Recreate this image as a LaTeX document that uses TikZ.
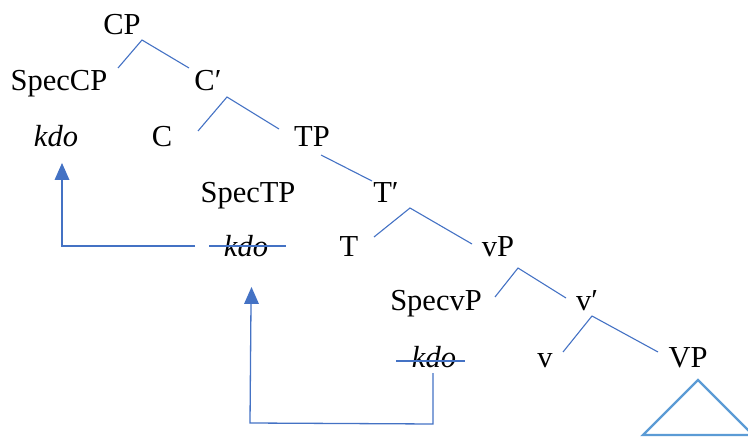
\documentclass[tikz,border=0pt]{standalone}
\usepackage{fontspec}
\setmainfont{Liberation Serif}
\definecolor{lnblue}{HTML}{4472C4}
\definecolor{triblue}{HTML}{5B9BD5}
\begin{document}
\begin{tikzpicture}[x=1bp,y=-1bp,
  lab/.style={anchor=base,inner sep=0pt,font=\fontsize{30.5bp}{36bp}\selectfont},
  edge/.style={draw=lnblue,line width=1.1bp},
  mv/.style={draw=lnblue,line width=1.3bp},
  tip/.style={fill=lnblue,draw=none}]
\useasboundingbox (0,0) rectangle (748,437);
% labels
\node[lab] (cp) at (122,35) {CP};
\node[lab] (speccp) at (59,91) {SpecCP};
\node[lab] (cbar) at (208,91) {C′};
\node[lab] (kdo1) at (56,147) {\itshape kdo};
\node[lab] (c) at (162,147) {C};
\node[lab] (tp) at (312,147) {TP};
\node[lab] (spectp) at (248,203) {SpecTP};
\node[lab] (tbar) at (386,203) {T′};
\node[lab] (kdo2) at (246,257) {\itshape kdo};
\node[lab] (t) at (349,257) {T};
\node[lab] (vp) at (498,257) {vP};
\node[lab] (specvp) at (436,311) {SpecvP};
\node[lab] (vbar) at (587,311) {v′};
\node[lab] (kdo3) at (434,368) {\itshape kdo};
\node[lab] (v) at (545,368) {v};
\node[lab] (VP) at (688,368) {VP};
% edge points
\coordinate (a1) at (142,40);
\coordinate (a1l) at (118,68);
\coordinate (a1r) at (189,68);
\coordinate (a2) at (227,97);
\coordinate (a2l) at (198,131);
\coordinate (a2r) at (279,129);
\coordinate (a3) at (321,155);
\coordinate (a3r) at (372,181);
\coordinate (a4) at (410,208);
\coordinate (a4l) at (374,237);
\coordinate (a4r) at (472,244);
\coordinate (a5) at (518,268);
\coordinate (a5l) at (495,297);
\coordinate (a5r) at (566,298);
\coordinate (a6) at (592,316);
\coordinate (a6l) at (563,352);
\coordinate (a6r) at (658,352);
\draw[edge] (a1l) -- (a1) -- (a1r);
\draw[edge] (a2l) -- (a2) -- (a2r);
\draw[edge] (a3) -- (a3r);
\draw[edge] (a4l) -- (a4) -- (a4r);
\draw[edge] (a5l) -- (a5) -- (a5r);
\draw[edge] (a6l) -- (a6) -- (a6r);
% strike-throughs
\draw[mv] (209,246) -- (286,246);
\draw[mv] (396,361) -- (465,361);
% movement arrows
\coordinate (m1s) at (195,246);
\coordinate (m1c) at (62,246);
\coordinate (m1t) at (62,180);
\draw[mv] (m1s) -- (m1c) -- (m1t);
\fill[tip] (62,163) -- (54.5,180) -- (69.5,180) -- cycle;
\coordinate (m2s) at (433,373);
\coordinate (m2c) at (433,424);
\coordinate (m2d) at (250,423);
\coordinate (m2t) at (251,303);
\draw[mv] (m2s) -- (m2c) -- (m2d) -- (m2t);
\fill[tip] (251.5,287) -- (244,304) -- (259,304) -- cycle;
% triangle
\draw[draw=triblue,line width=2.4bp,line join=miter] (698,380) -- (643,435) -- (753,435) -- cycle;
\end{tikzpicture}
\end{document}
